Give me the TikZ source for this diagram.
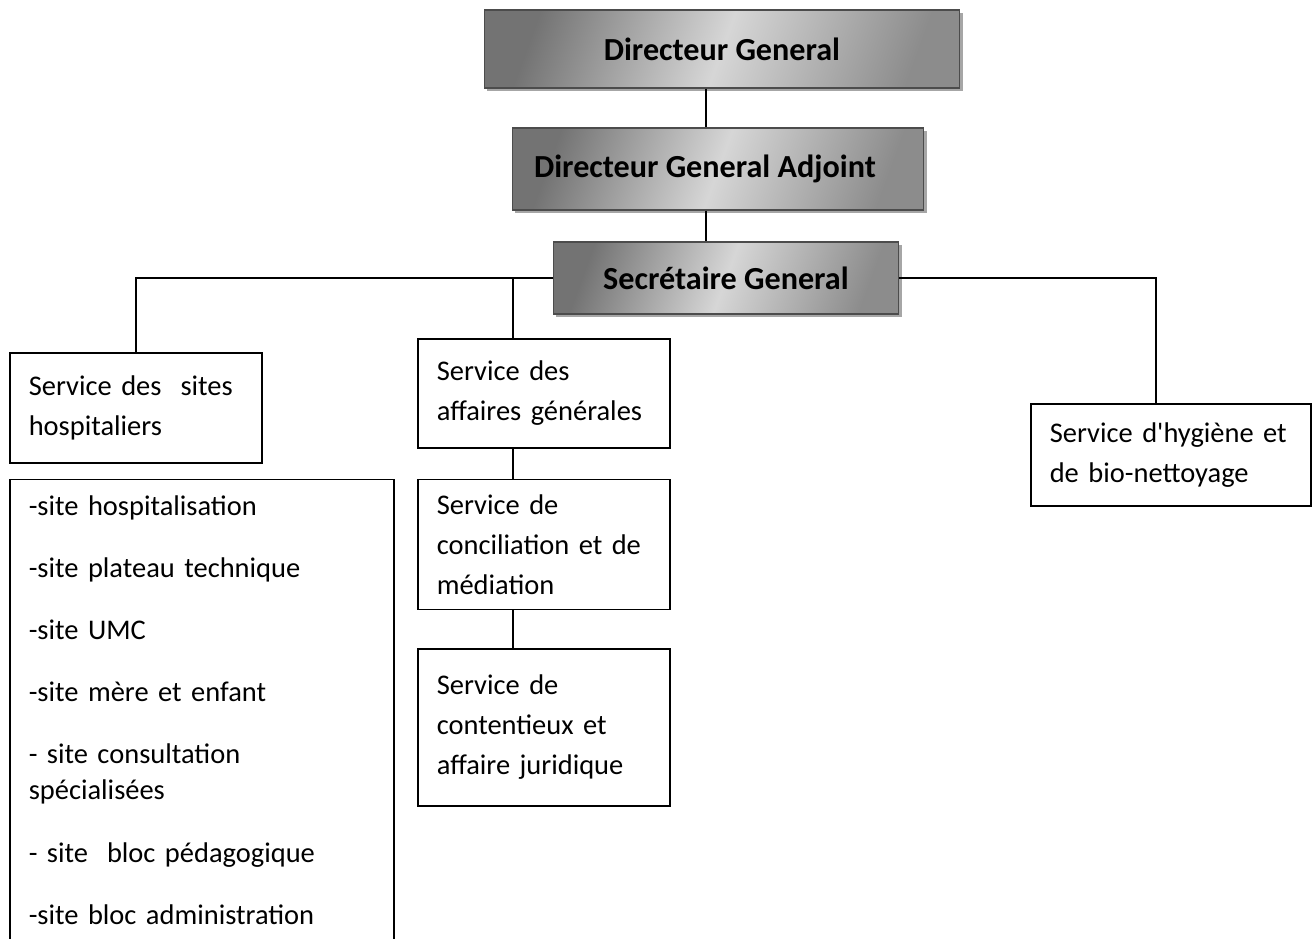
\documentclass[tikz,border=0pt]{standalone}
\usepackage{fontspec}
\setmainfont{Carlito}
\usetikzlibrary{positioning,shadows}

\newcommand{\policechef}{\fontsize{18.3}{21}\selectfont\bfseries}
\newcommand{\policeservice}{\fontsize{16.2}{22.8}\selectfont}
\newcommand{\policeliste}{\fontsize{16.2}{20.5}\selectfont}

\tikzset{
  chef/.style={draw=black!70, line width=0.6pt, font=\policechef,
    left color=black!55, right color=black!45, middle color=black!16, shading angle=70,
    drop shadow={shadow xshift=1.8pt, shadow yshift=-1.8pt, fill=black!35, opacity=1}},
  service/.style={draw, anchor=north west, align=left, inner xsep=0.38cm, inner ysep=0pt, font=\policeservice}
}

\begin{document}
\begin{tikzpicture}[x=0.02cm, y=-0.02cm, node distance=0.6cm, line width=0.9pt]

    \useasboundingbox (0,0) rectangle (1313,939);
    \clip (0,0) rectangle (1313,939);

    %Direction
    \node[chef, minimum width=9.52cm, minimum height=1.56cm] (DG) at (722,49) {Directeur General};
    \node[chef, minimum width=8.24cm, minimum height=1.64cm] (DGA) at (718,169) {Directeur General Adjoint\kern0.52cm};
    \node[chef, minimum width=6.92cm, minimum height=1.44cm] (SG) at (726,278) {Secrétaire General};

    %Services
    \node[service, text width=4.28cm, minimum height=2.2cm] (sites) at (9,352) {Service des\ \ sites\\hospitaliers};
    \node[service, text width=4.28cm, minimum height=2.18cm] (aff) at (417,338) {Service des\\affaires générales};
    \node[service, text width=4.28cm, minimum height=2.6cm, below right=0.6cm and 0cm of aff.south west] (concil) {Service de\\conciliation et de\\médiation};
    \node[service, text width=4.28cm, minimum height=3.14cm, below right=0.76cm and 0cm of concil.south west] (cont) {Service de\\contentieux et\\affaire juridique};
    \node[service, text width=4.84cm, minimum height=2.04cm] (hyg) at (1030,403) {Service d\textquotesingle hygiène et\\de bio-nettoyage};

    %Liste des sites
    \node[service, font=\policeliste, inner ysep=0.32cm, text width=6.92cm, below right=0.3cm and 0cm of sites.south west] (liste) {-site hospitalisation\\[14.9pt]
      -site plateau technique\\[14.9pt]
      -site UMC\\[14.9pt]
      -site mère et enfant\\[14.9pt]
      - site consultation\\spécialisées\\[14.9pt]
      - site\ \ bloc pédagogique\\[14.9pt]
      -site bloc administration\\[1cm]\mbox{}};

    %Traits
    \coordinate (tronc) at (706,0);
    \coordinate (brG) at (513,0);
    \coordinate (brD) at (1156,0);
    \draw (DG.south -| tronc) -- (DGA.north -| tronc);
    \draw (DGA.south -| tronc) -- (SG.north -| tronc);
    \draw (SG.west) -| (sites.north);
    \draw (SG.west -| brG) -- (aff.north -| brG);
    \draw (aff.south -| brG) -- (concil.north -| brG);
    \draw (concil.south -| brG) -- (cont.north -| brG);
    \draw (SG.east) -| (hyg.north -| brD);

\end{tikzpicture}
\end{document}
